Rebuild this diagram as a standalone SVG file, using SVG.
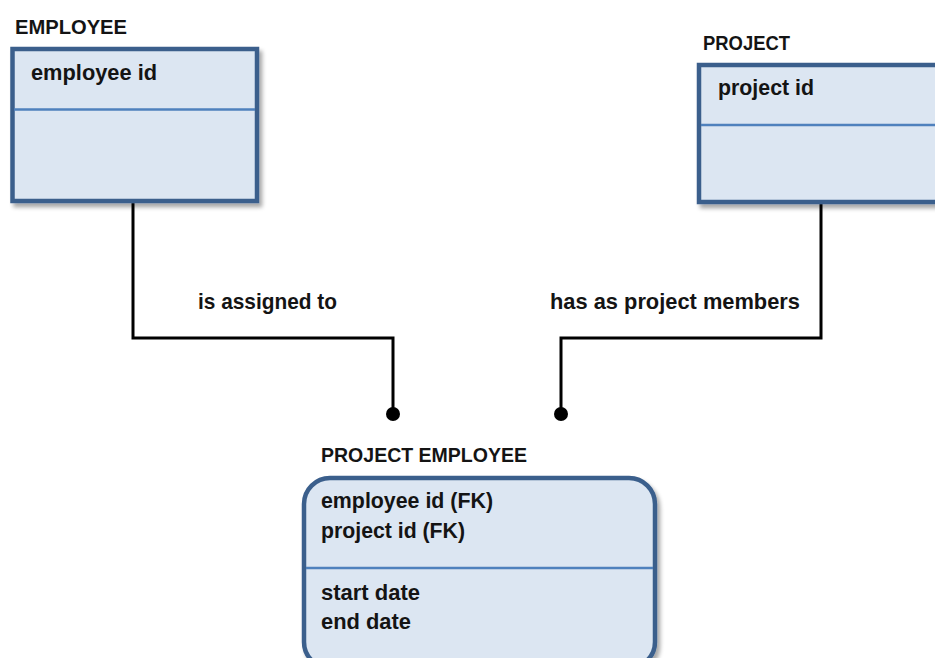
<svg xmlns="http://www.w3.org/2000/svg" width="935" height="658" viewBox="0 0 935 658">
<style>
.box{fill:#dce6f2;stroke:#3b5f8c;stroke-width:4.5}
.div{stroke:#4f81bd;stroke-width:2.5;fill:none}
.t{font-family:"Liberation Sans",Arial,sans-serif;font-weight:bold;fill:#141414}
.h{font-size:20px}
.b{font-size:22px}
.c{fill:none;stroke:#000;stroke-width:3;stroke-linejoin:miter}
</style>
<defs>
<filter id="sh" x="-10%" y="-10%" width="130%" height="130%">
<feGaussianBlur in="SourceAlpha" stdDeviation="2"/>
<feOffset dx="3" dy="4" result="o"/>
<feComponentTransfer><feFuncA type="linear" slope="0.35"/></feComponentTransfer>
<feMerge><feMergeNode/><feMergeNode in="SourceGraphic"/></feMerge>
</filter>
</defs>
<rect width="935" height="658" fill="#fff"/>
<g id="connectors">
<polyline class="c" points="133,202 133,338 393,338 393,414"/>
<circle cx="393" cy="414" r="7" fill="#000"/>
<polyline class="c" points="821,204 821,338 561,338 561,414"/>
<circle cx="561" cy="414" r="7" fill="#000"/>
<text class="t b" x="198" y="309" textLength="139" lengthAdjust="spacingAndGlyphs">is assigned to</text>
<text class="t b" x="550" y="309" textLength="250" lengthAdjust="spacingAndGlyphs">has as project members</text>
</g>
<g id="employee">
<text class="t h" x="15" y="34" textLength="112" lengthAdjust="spacingAndGlyphs">EMPLOYEE</text>
<rect class="box" x="12.5" y="49" width="244.5" height="152" filter="url(#sh)"/>
<line class="div" x1="14" y1="109.5" x2="255" y2="109.5"/>
<text class="t b" x="31" y="80" textLength="126" lengthAdjust="spacingAndGlyphs">employee id</text>
</g>
<g id="project">
<text class="t h" x="703" y="50" textLength="87" lengthAdjust="spacingAndGlyphs">PROJECT</text>
<rect class="box" x="699" y="65" width="250" height="137" filter="url(#sh)"/>
<line class="div" x1="701" y1="125" x2="940" y2="125"/>
<text class="t b" x="718" y="95" textLength="96" lengthAdjust="spacingAndGlyphs">project id</text>
</g>
<g id="project-employee">
<text class="t h" x="321" y="462" textLength="206" lengthAdjust="spacingAndGlyphs">PROJECT EMPLOYEE</text>
<rect class="box" x="304" y="478" width="351" height="190" rx="26" ry="26" filter="url(#sh)"/>
<line class="div" x1="306" y1="568" x2="653" y2="568"/>
<text class="t b" x="321" y="508" textLength="172" lengthAdjust="spacingAndGlyphs">employee id (FK)</text>
<text class="t b" x="321" y="538" textLength="144" lengthAdjust="spacingAndGlyphs">project id (FK)</text>
<text class="t b" x="321" y="600" textLength="99" lengthAdjust="spacingAndGlyphs">start date</text>
<text class="t b" x="321" y="629" textLength="90" lengthAdjust="spacingAndGlyphs">end date</text>
</g>
</svg>
